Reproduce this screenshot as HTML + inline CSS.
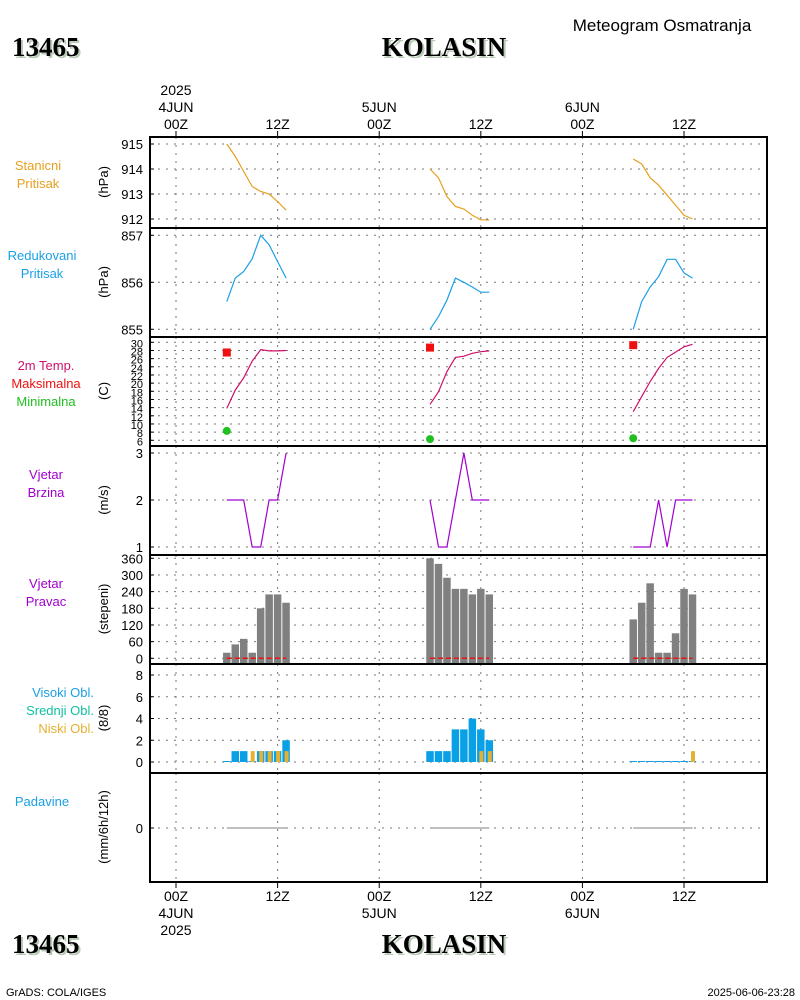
<!DOCTYPE html>
<html><head><meta charset="utf-8">
<style>
html,body{margin:0;padding:0;background:#fff;}
svg{display:block;}
text{font-family:"Liberation Sans",sans-serif;}
text.ttl{font-family:"Liberation Serif",serif;font-weight:bold;font-size:27px;}
</style></head>
<body>
<svg id="chart" width="800" height="1000" viewBox="0 0 800 1000" xmlns="http://www.w3.org/2000/svg">
<rect width="800" height="1000" fill="#fff"/>
<text x="662" y="31" font-size="17" text-anchor="middle" fill="#000">Meteogram Osmatranja</text>
<g>
<text class="ttl" x="14" y="58" fill="#b9cbb7">13465</text><text class="ttl" x="12" y="56" fill="#000">13465</text></g>
<g>
<text class="ttl" x="446" y="58" fill="#b9cbb7" text-anchor="middle">KOLASIN</text><text class="ttl" x="444" y="56" fill="#000" text-anchor="middle">KOLASIN</text></g>
<g>
<text class="ttl" x="14" y="955" fill="#b9cbb7">13465</text><text class="ttl" x="12" y="953" fill="#000">13465</text></g>
<g>
<text class="ttl" x="446" y="955" fill="#b9cbb7" text-anchor="middle">KOLASIN</text><text class="ttl" x="444" y="953" fill="#000" text-anchor="middle">KOLASIN</text></g>
<text x="6" y="996" font-size="11">GrADS: COLA/IGES</text>
<text x="795" y="996" font-size="11" text-anchor="end">2025-06-06-23:28</text>
<g id="layer"></g>
</svg>
<script>
// ---- data ----
const days = [0, 1, 2];
const hours = [6, 7, 8, 9, 10, 11, 12, 13];
const stationPressure = [
  [915.0, 914.5, 913.9, 913.3, 913.1, 913.0, 912.7, 912.35],
  [914.0, 913.65, 912.9, 912.5, 912.4, 912.15, 911.97, 911.95],
  [914.4, 914.2, 913.65, 913.35, 912.95, 912.55, 912.15, 912.0]];
const reducedPressure = [
  [855.59, 856.09, 856.23, 856.5, 857.0, 856.8, 856.44, 856.09],
  [855.0, 855.27, 855.62, 856.09, 856.0, 855.9, 855.79, 855.79],
  [855.0, 855.59, 855.9, 856.12, 856.49, 856.49, 856.2, 856.09]];
const temperature = [
  [13.8, 18.3, 21.3, 25.4, 28.2, 27.9, 27.9, 28.0],
  [14.8, 17.9, 22.8, 26.3, 26.6, 27.3, 27.7, 27.9],
  [13.0, 16.7, 20.4, 23.6, 26.3, 27.6, 28.9, 29.5]];
const tempMax = [27.5, 28.7, 29.3];
const tempMin = [8.3, 6.3, 6.5];
const windSpeed = [
  [2, 2, 2, 1, 1, 2, 2, 3],
  [2, 1, 1, 2, 3, 2, 2, 2],
  [1, 1, 1, 2, 1, 2, 2, 2]];
const windDir = [
  [20, 50, 70, 20, 180, 230, 230, 200],
  [360, 340, 290, 250, 250, 230, 250, 230],
  [140, 200, 270, 20, 20, 90, 250, 230]];
const highCloud = [
  [0, 1, 1, 0, 1, 1, 1, 2],
  [1, 1, 1, 3, 3, 4, 3, 2],
  [0, 0, 0, 0, 0, 0, 0, 0]];
const lowCloud = [
  [0, 0, 0, 1, 1, 1, 1, 1],
  [0, 0, 0, 0, 0, 0, 1, 1],
  [0, 0, 0, 0, 0, 0, 0, 1]];
const precip = [
  [0, 0, 0, 0, 0, 0, 0, 0],
  [0, 0, 0, 0, 0, 0, 0, 0],
  [0, 0, 0, 0, 0, 0, 0, 0]];
const ticksP1 = [912, 913, 914, 915];
const ticksP2 = [855, 856, 857];
const ticksT = [6, 8, 10, 12, 14, 16, 18, 20, 22, 24, 26, 28, 30];
const ticksWS = [1, 2, 3];
const ticksWD = [0, 60, 120, 180, 240, 300, 360];
const ticksCl = [0, 2, 4, 6, 8];
const ticksPr = [0];
const timeTicks = [0, 12, 24, 36, 48, 60];
const timeLabels = ["00Z", "12Z", "00Z", "12Z", "00Z", "12Z"];

// ---- layout ----
const NS = "http://www.w3.org/2000/svg";
const layer = document.getElementById('layer');
const X0 = 150, X1 = 767;
function tx(day, h) { return 176 + (day * 24 + h) * 8.467; }
function lin(v0, y0, v1, y1) { return v => y0 + (v - v0) * (y1 - y0) / (v1 - v0); }
function mk(tag, attrs, name, parent) {
  const e = document.createElementNS(NS, tag);
  for (const k in attrs) e.setAttribute(k, attrs[k]);
  
  
  (parent || layer).appendChild(e);
  return e;
}
function txt(x, y, s, name, extra) {
  const e = mk('text', Object.assign({x: x, y: y, 'font-size': 13}, extra || {}), name);
  e.textContent = s;
  return e;
}
const panels = [
  {top: 137, bot: 228, name: 'station-pressure'},
  {top: 228, bot: 337, name: 'reduced-pressure'},
  {top: 337, bot: 446, name: 'temperature'},
  {top: 446, bot: 555, name: 'wind-speed'},
  {top: 555, bot: 664, name: 'wind-direction'},
  {top: 664, bot: 773, name: 'cloud-cover'},
  {top: 773, bot: 882, name: 'precipitation'}];

const yP1 = lin(912, 219, 915, 144);
const yP2 = lin(855, 329.3, 857, 235.3);
const yT = lin(6, 440.3, 30, 342.3);
const yWS = lin(1, 547, 3, 453);
const yWD = lin(0, 658.3, 360, 558.3);
const yCl = lin(0, 762, 8, 675);
const yPr = lin(0, 828, 1, 800);

function grid(panel, ticks, yf, fs) {
  const g = mk('g', {}, panel.name + '-grid');
  ticks.forEach(t => {
    const y = yf(t);
    mk('line', {x1: X0, x2: X1, y1: y, y2: y, stroke: '#777', 'stroke-dasharray': '2,6'}, 'h-gridline', g);
    mk('line', {x1: X0, x2: X0 + 4, y1: y, y2: y, stroke: '#000'}, 'y-tick', g);
    txt(143, y + 5, String(t), 'y-tick-label', {'text-anchor': 'end', 'font-size': fs || 13});
  });
  timeTicks.forEach(h => {
    const x = tx(0, h);
    mk('line', {x1: x, x2: x, y1: panel.top, y2: panel.bot, stroke: '#777', 'stroke-dasharray': '2,6'}, 'v-gridline', g);
  });
}
grid(panels[0], ticksP1, yP1);
grid(panels[1], ticksP2, yP2);
grid(panels[2], ticksT, yT, 11);
grid(panels[3], ticksWS, yWS);
grid(panels[4], ticksWD, yWD);
grid(panels[5], ticksCl, yCl);
grid(panels[6], ticksPr, yPr);

function lineSeries(data, yf, color, name) {
  days.forEach(d => {
    const pts = hours.map((h, i) => tx(d, h).toFixed(1) + ',' + yf(data[d][i]).toFixed(1)).join(' ');
    mk('polyline', {points: pts, fill: 'none', stroke: color, 'stroke-width': 1.2}, name + '-day' + (d + 1));
  });
}
lineSeries(stationPressure, yP1, '#e6a020', 'station-pressure-line');
lineSeries(reducedPressure, yP2, '#1aa0e6', 'reduced-pressure-line');
lineSeries(temperature, yT, '#d0106a', 'temperature-line');
lineSeries(windSpeed, yWS, '#a000d0', 'wind-speed-line');
days.forEach(d => {
  const x = tx(d, 6);
  mk('rect', {x: x - 4, y: yT(tempMax[d]) - 4, width: 8, height: 8, fill: '#f01010'}, 'max-temp-marker');
  mk('circle', {cx: x, cy: yT(tempMin[d]), r: 4, fill: '#20c020'}, 'min-temp-marker');
  hours.forEach((h, i) => {
    const xc = tx(d, h), y = yWD(windDir[d][i]);
    mk('rect', {x: xc - 3.75, y: y, width: 7.5, height: 664 - y, fill: '#808080'}, 'wind-direction-bar');
    const yb = yCl(highCloud[d][i]);
    mk('rect', {x: xc - 3.75, y: Math.min(yb, 761), width: 7.5, height: Math.max(762 - yb, 1), fill: '#0aa0e6'}, 'high-cloud-bar');
    if (lowCloud[d][i] > 0) {
      const yl = yCl(lowCloud[d][i]);
      mk('rect', {x: xc - 1.5, y: yl, width: 4, height: 762 - yl, fill: '#e6b030'}, 'low-cloud-bar');
    }
  });
  mk('line', {x1: tx(d, 6), x2: tx(d, 13), y1: yWD(0), y2: yWD(0), stroke: '#f01010', 'stroke-width': 1.5, 'stroke-dasharray': '5,3'}, 'wind-direction-zero-line');
  const pp = hours.map((h, i) => tx(d, h).toFixed(1) + ',' + yPr(precip[d][i]).toFixed(1)).join(' ');
  mk('polyline', {points: pp, fill: 'none', stroke: '#808080', 'stroke-width': 1}, 'precip-line-day' + (d + 1));
});

panels.forEach(p => {
  mk('rect', {x: X0, y: p.top, width: X1 - X0, height: p.bot - p.top, fill: 'none', stroke: '#000', 'stroke-width': 2}, p.name + '-frame');
});
const dayNames = ["4JUN", "5JUN", "6JUN"];
timeTicks.forEach((h, i) => {
  const x = tx(0, h);
  mk('line', {x1: x, x2: x, y1: 131, y2: 137, stroke: '#000'}, 'top-x-tick');
  mk('line', {x1: x, x2: x, y1: 882, y2: 888, stroke: '#000'}, 'bottom-x-tick');
  txt(x, 129, timeLabels[i], 'top-x-tick-label', {'text-anchor': 'middle', 'font-size': 14});
  txt(x, 901, timeLabels[i], 'bottom-x-tick-label', {'text-anchor': 'middle', 'font-size': 14});
  if (h % 24 === 0) {
    txt(x, 112, dayNames[h / 24], 'top-date-label', {'text-anchor': 'middle', 'font-size': 14});
    txt(x, 918, dayNames[h / 24], 'bottom-date-label', {'text-anchor': 'middle', 'font-size': 14});
  }
});
txt(176, 95, '2025', 'top-year-label', {'text-anchor': 'middle', 'font-size': 14});
txt(176, 935, '2025', 'bottom-year-label', {'text-anchor': 'middle', 'font-size': 14});

function label(x, y, s, color, name, anchor) {
  txt(x, y, s, name, {fill: color, 'text-anchor': anchor || 'middle', 'font-size': 13});
}
label(38, 170, 'Stanicni', '#e6a020', 'station-pressure-label');
label(38, 188, 'Pritisak', '#e6a020', 'station-pressure-label-2');
label(42, 260, 'Redukovani', '#1aa0e6', 'reduced-pressure-label');
label(42, 278, 'Pritisak', '#1aa0e6', 'reduced-pressure-label-2');
label(46, 370, '2m Temp.', '#d0106a', 'temperature-label');
label(46, 388, 'Maksimalna', '#f01010', 'max-temp-label');
label(46, 406, 'Minimalna', '#20c020', 'min-temp-label');
label(46, 479, 'Vjetar', '#a000d0', 'wind-speed-label');
label(46, 497, 'Brzina', '#a000d0', 'wind-speed-label-2');
label(46, 588, 'Vjetar', '#a000d0', 'wind-direction-label');
label(46, 606, 'Pravac', '#a000d0', 'wind-direction-label-2');
label(94, 697, 'Visoki Obl.', '#1aa0e6', 'high-cloud-label', 'end');
label(94, 715, 'Srednji Obl.', '#10c0a0', 'mid-cloud-label', 'end');
label(94, 733, 'Niski Obl.', '#e6b030', 'low-cloud-label', 'end');
label(42, 806, 'Padavine', '#1aa0e6', 'precipitation-label');
const titles = [['(hPa)', 182], ['(hPa)', 282], ['(C)', 391], ['(m/s)', 500], ['(stepeni)', 609], ['(8/8)', 718], ['(mm/6h/12h)', 827]];
titles.forEach(t => {
  txt(0, 0, t[0], 'y-axis-title', {'text-anchor': 'middle', 'font-size': 13, transform: 'translate(108,' + t[1] + ') rotate(-90)'});
});
</script>
</body></html>
